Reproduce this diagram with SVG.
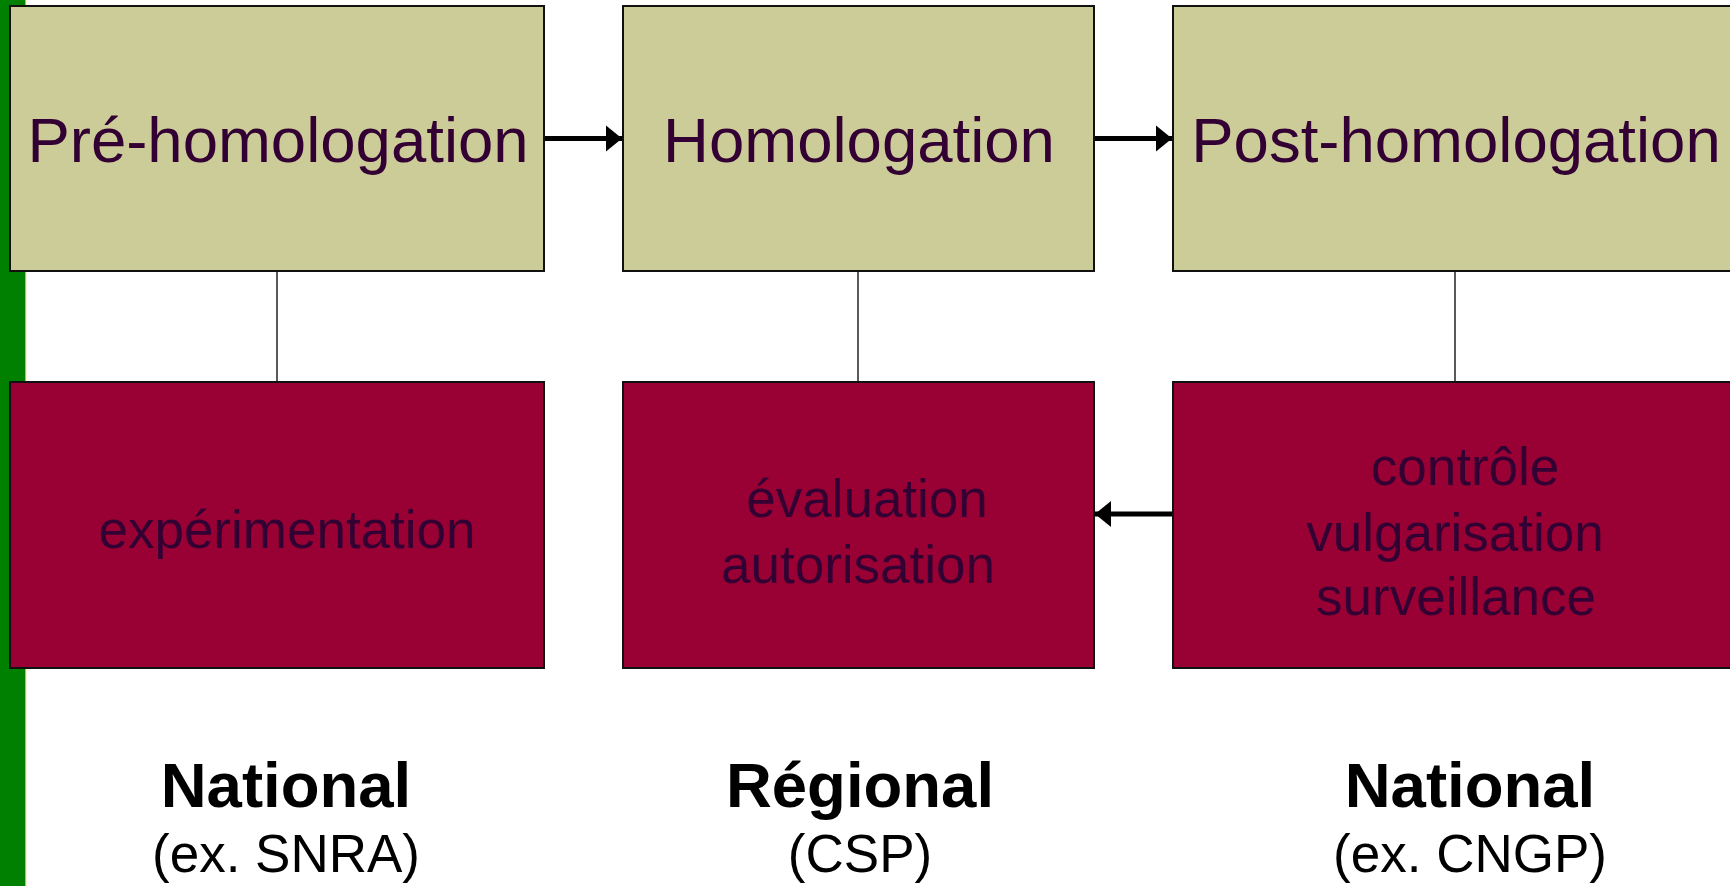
<svg xmlns="http://www.w3.org/2000/svg" width="1730" height="886" viewBox="0 0 1730 886">
<style>
  .top { fill: #CCCC99; stroke: #111111; stroke-width: 2; }
  .bot { fill: #990033; stroke: #111111; stroke-width: 2; }
  .t1 { font-family: "Liberation Sans", Arial, sans-serif; font-size: 63.5px; fill: #330033; text-anchor: middle; }
  .t2 { font-family: "Liberation Sans", Arial, sans-serif; font-size: 53px; fill: #330033; text-anchor: middle; }
  .lb { font-family: "Liberation Sans", Arial, sans-serif; font-size: 63.5px; font-weight: bold; fill: #000000; text-anchor: middle; }
  .ls { font-family: "Liberation Sans", Arial, sans-serif; font-size: 53px; fill: #000000; text-anchor: middle; }
  .link { stroke: #222222; stroke-width: 1.5; fill: none; }
  .arrow { stroke: #000000; stroke-width: 5; fill: none; }
</style>
<defs>
  <marker id="ah" markerUnits="userSpaceOnUse" markerWidth="16" markerHeight="28" viewBox="0 0 16 28" refX="16" refY="14" orient="auto">
    <path d="M0,1 L16,14 L0,27 Z" fill="#000000"/>
  </marker>
</defs>
<rect x="0" y="0" width="1730" height="886" fill="#FFFFFF"/>
<rect x="0" y="0" width="25" height="886" fill="#008000"/>
<rect x="25" y="0" width="1.2" height="886" fill="#E8B020"/>

<g id="connectors">
  <line class="link" x1="277" y1="271" x2="277" y2="381"/>
  <line class="link" x1="858" y1="271" x2="858" y2="381"/>
  <line class="link" x1="1455" y1="271" x2="1455" y2="381"/>
  <line class="arrow" x1="544" y1="138.5" x2="622" y2="138.5" marker-end="url(#ah)"/>
  <line class="arrow" x1="1093" y1="138.5" x2="1172" y2="138.5" marker-end="url(#ah)"/>
  <line class="arrow" x1="1172" y1="514" x2="1095" y2="514" marker-end="url(#ah)"/>
</g>

<g id="pre-homologation">
  <rect class="top" x="10" y="6" width="534" height="265"/>
  <text class="t1" x="278" y="162">Pré-homologation</text>
</g>
<g id="homologation">
  <rect class="top" x="623" y="6" width="471" height="265"/>
  <text class="t1" x="859" y="162">Homologation</text>
</g>
<g id="post-homologation">
  <rect class="top" x="1173" y="6" width="565" height="265"/>
  <text class="t1" x="1456" y="162">Post-homologation</text>
</g>

<g id="experimentation">
  <rect class="bot" x="10" y="382" width="534" height="286"/>
  <text class="t2" x="287" y="548">expérimentation</text>
</g>
<g id="evaluation">
  <rect class="bot" x="623" y="382" width="471" height="286"/>
  <text class="t2" x="867" y="517">évaluation</text>
  <text class="t2" x="858" y="583">autorisation</text>
</g>
<g id="controle">
  <rect class="bot" x="1173" y="382" width="565" height="286"/>
  <text class="t2" x="1465" y="485">contrôle</text>
  <text class="t2" x="1455" y="551">vulgarisation</text>
  <text class="t2" x="1456" y="615">surveillance</text>
</g>

<g id="label-national-1">
  <text class="lb" x="286" y="807">National</text>
  <text class="ls" x="286" y="872">(ex. SNRA)</text>
</g>
<g id="label-regional">
  <text class="lb" x="860" y="807">Régional</text>
  <text class="ls" x="860" y="872">(CSP)</text>
</g>
<g id="label-national-2">
  <text class="lb" x="1470" y="807">National</text>
  <text class="ls" x="1470" y="872">(ex. CNGP)</text>
</g>
</svg>
